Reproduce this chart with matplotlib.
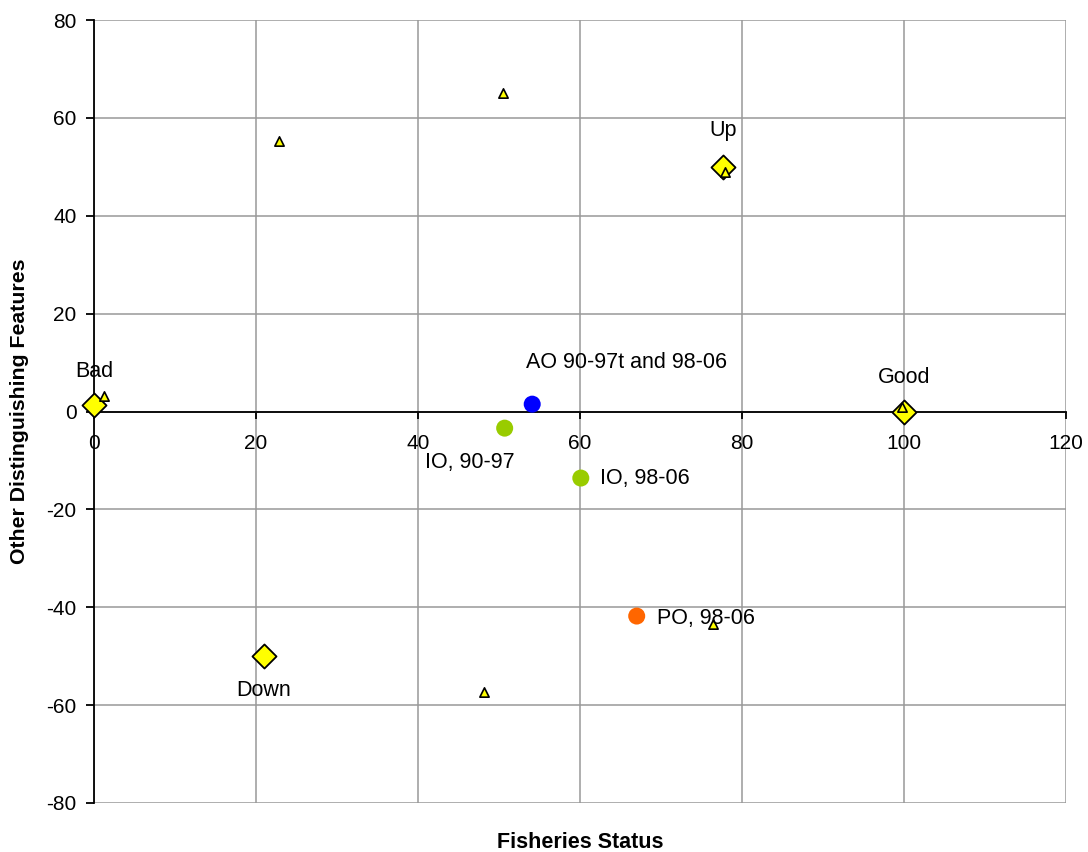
import matplotlib
matplotlib.use("Agg")
import matplotlib.pyplot as plt

plt.rcParams['font.family'] = ['Liberation Sans', 'DejaVu Sans']
plt.rcParams['axes.unicode_minus'] = False

# Reference points (yellow diamonds)
ref_names = ["Bad", "Up", "Good", "Down"]
ref_x = [0, 77.7, 100, 21]
ref_y = [1.3, 50, 0, -50]

# Small yellow triangles
tri_x = [1.2, 22.8, 50.5, 77.9, 99.8, 76.4, 48.1]
tri_y = [3.2, 55.3, 65.1, 49.0, 0.9, -43.5, -57.4]

# Ocean points
ocean_names = ["AO 90-97t and 98-06", "IO, 90-97", "IO, 98-06", "PO, 98-06"]
ocean_x = [54.1, 50.7, 60.1, 67.0]
ocean_y = [1.5, -3.4, -13.6, -41.8]
ocean_colors = ["#0000FF", "#99CC00", "#99CC00", "#FF6600"]

x_ticks = [0, 20, 40, 60, 80, 100, 120]
y_ticks = [-80, -60, -40, -20, 0, 20, 40, 60, 80]

fig = plt.figure(figsize=(10.88, 8.52), dpi=100)
ax = fig.add_axes([94/1088, 1-803/852, (1066-94)/1088, (803-20)/852])

ax.set_xlim(0, 120)
ax.set_ylim(-80, 80)
ax.set_xticks(x_ticks)
ax.set_yticks(y_ticks)
ax.grid(True, color="#999999", linewidth=1.1)
ax.set_axisbelow(True)

for s in ["top", "right"]:
    ax.spines[s].set_visible(False)
ax.spines["bottom"].set_position(("data", 0))
ax.spines["bottom"].set_linewidth(1.3)
ax.spines["left"].set_linewidth(1.3)

ax.tick_params(axis="x", direction="out", length=5, width=1.3, pad=11, labelsize=15)
ax.tick_params(axis="y", direction="out", length=5.5, width=1.3, pad=7, labelsize=15)

ax.scatter(ocean_x, ocean_y, s=150, c=ocean_colors, edgecolors="none", zorder=3)
ax.scatter(ref_x, ref_y, s=150, marker="D", c="#FFFF00", edgecolors="black",
           linewidths=1.3, zorder=4, clip_on=False)
ax.scatter(tri_x, tri_y, s=45, marker="^", c="#FFFF00", edgecolors="black",
           linewidths=1.2, zorder=5, clip_on=False)

ref_offsets = [(0, 24.5), (0, 26), (0, 24.5), (0, -25)]
for name, x, y, off in zip(ref_names, ref_x, ref_y, ref_offsets):
    ax.annotate(name, (x, y), xytext=off, textcoords="offset points",
                ha="center", va="center", fontsize=15.5, zorder=6)

ocean_offsets = [(67.7, 30), (-25, -24.5), (13.7, 0), (14.4, -1.5)]
ocean_ha = ["center", "center", "left", "left"]
for name, x, y, off, ha in zip(ocean_names, ocean_x, ocean_y, ocean_offsets, ocean_ha):
    ax.annotate(name, (x, y), xytext=off, textcoords="offset points",
                ha=ha, va="center", fontsize=15.5, zorder=6)

fig.text(580/1088, 1-842/852, "Fisheries Status", ha="center", va="center",
         fontsize=15.5, fontweight="bold")
fig.text(20/1088, 1-411/852, "Other Distinguishing Features", ha="center", va="center",
         rotation=90, fontsize=15.3, fontweight="bold")

fig.savefig("out.png", dpi=100)
